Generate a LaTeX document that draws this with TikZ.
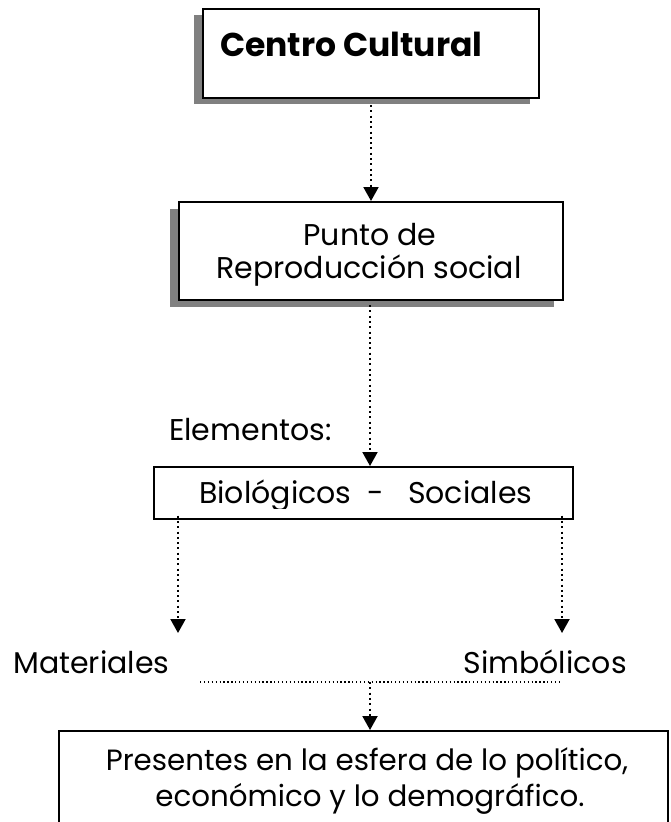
\documentclass[tikz,border=0pt]{standalone}
\usepackage{fontspec}
\setmainfont{Poppins}
\usetikzlibrary{arrows.meta}
\definecolor{shadowgray}{HTML}{808080}
\tikzset{
  boxframe/.style={draw=black, fill=white, line width=2pt, inner sep=0pt, anchor=north west},
  shadowbox/.style={fill=shadowgray},
  lbl/.style={inner sep=0pt, font=\fontsize{30}{36}\selectfont},
  dotarrow/.style={line width=2pt, dash pattern=on 2pt off 3.3pt, -{Triangle[width=15pt,length=14pt]}},
  dotline/.style={line width=1.3pt, dash pattern=on 1.3pt off 2.6pt}
}
\begin{document}
\begin{tikzpicture}[x=1pt,y=-1pt]
\useasboundingbox (0,0) rectangle (671,822);
\fill[white] (0,0) rectangle (671,822);
\clip (0,0) rectangle (671,822);

% coordinates for free ends
\coordinate (m) at (178,633);
\coordinate (s) at (562,633);
\coordinate (hl) at (200,682);
\coordinate (hr) at (560,682);
\coordinate (hm) at (370,682);

% boxes
\fill[shadowbox] (194,15) rectangle (530,104);
\node[boxframe, minimum width=336pt, minimum height=89pt] (top) at (202,8) {};
\fill[shadowbox] (170,209) rectangle (554,307);
\node[boxframe, minimum width=384pt, minimum height=98pt] (box2) at (178,201) {};
\node[boxframe, line width=1.6pt, minimum width=419pt, minimum height=52pt] (box3) at (153,466) {};
\node[boxframe, minimum width=609pt, minimum height=120pt] (box4) at (58,730) {};

% texts
\node[lbl, font=\bfseries\fontsize{33}{38}\selectfont, anchor=base west] (t1) at (220,56) {Centro Cultural};
\node[lbl, anchor=base] (t2a) at (370,245) {Punto de};
\node[lbl, anchor=base] (t2b) at (369,278) {Reproducción social};
\node[lbl, anchor=base west] (el) at (169,440) {Elementos:};
\begin{scope}
  \clip (150,466) rectangle (590,508);
  \node[lbl, anchor=base west] (t3) at (199,503) {Biológicos\ \ -\ \ \ Sociales};
\end{scope}
\node[lbl, anchor=base west] (mat) at (13,673) {Materiales};
\node[lbl, anchor=base east] (sim) at (627,673) {Simbólicos};
\node[lbl, font=\fontsize{29.3}{36}\selectfont, anchor=base] (t4a) at (367,770) {Presentes en la esfera de lo político,};
\node[lbl, font=\fontsize{29.3}{36}\selectfont, anchor=base] (t4b) at (370,806) {económico y lo demográfico.};

% connectors
\draw[dotarrow, shorten <=6pt] (top.south) -- (box2.north);
\draw[dotarrow, shorten <=4pt] (box2.south -| hm) -- (box3.north -| hm);
\draw[dotarrow, shorten <=-4pt] (box3.south -| m) -- (m);
\draw[dotarrow, shorten <=-4pt] (box3.south -| s) -- (s);
\draw[dotline] (hl) -- (hr);
\draw[dotarrow] (hm) -- (hm |- box4.north);
\end{tikzpicture}
\end{document}
